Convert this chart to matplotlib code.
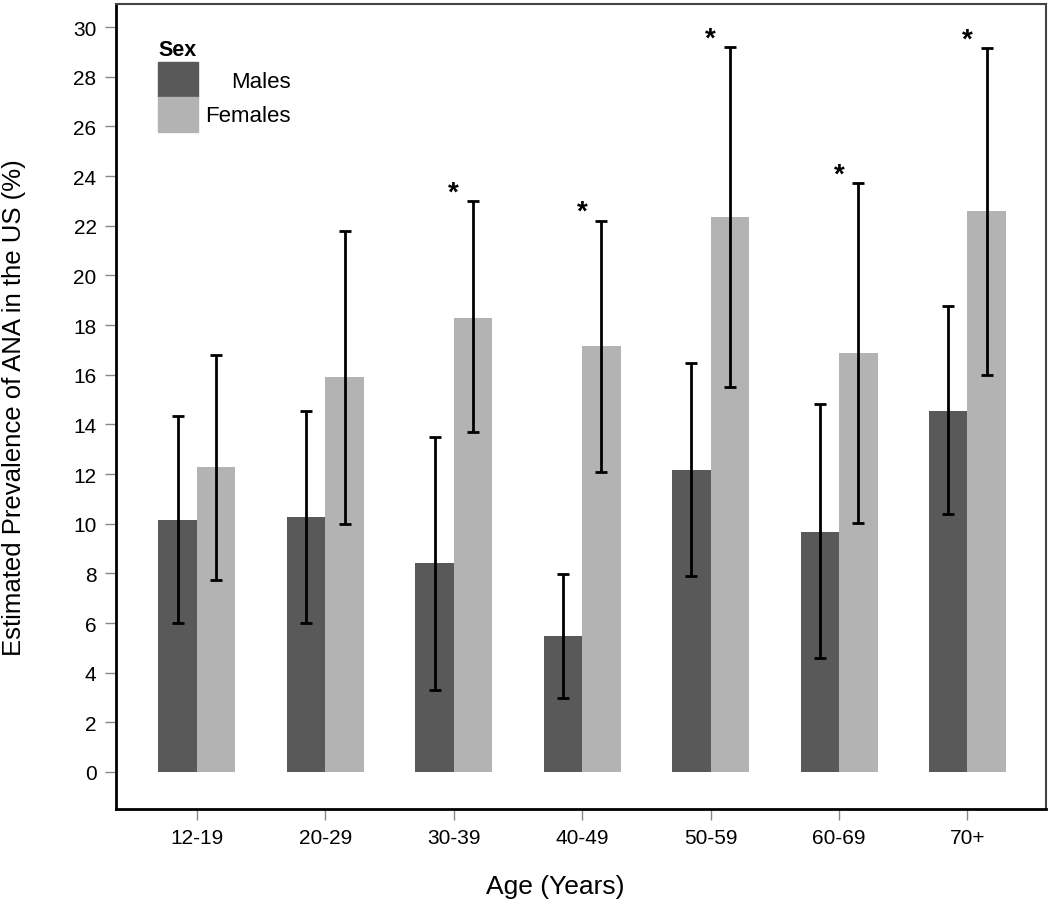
import numpy as np
import matplotlib
matplotlib.use("Agg")
import matplotlib.pyplot as plt
from matplotlib.patches import Rectangle

plt.rcParams['font.family'] = ['Liberation Sans', 'DejaVu Sans']

# data
ages = ['12-19', '20-29', '30-39', '40-49', '50-59', '60-69', '70+']
males = [10.15, 10.27, 8.4, 5.48, 12.16, 9.67, 14.55]
males_lo = [6.0, 6.0, 3.3, 2.98, 7.9, 4.6, 10.4]
males_hi = [14.35, 14.55, 13.5, 7.97, 16.47, 14.8, 18.77]
females = [12.28, 15.9, 18.3, 17.15, 22.35, 16.87, 22.6]
females_lo = [7.73, 10.0, 13.7, 12.08, 15.5, 10.03, 16.0]
females_hi = [16.8, 21.8, 23.0, 22.2, 29.2, 23.7, 29.15]
significant = [False, False, True, True, True, True, True]

dark = '#595959'
light = '#b3b3b3'

fig = plt.figure(figsize=(10.5, 9.03), dpi=100)
ax = fig.add_axes([0.1105, 0.103, 0.8855, 0.8915])

x = np.arange(len(ages))
w = 0.3
m = np.array(males)
f = np.array(females)

ax.bar(x - w / 2, m, w, color=dark, zorder=2)
ax.bar(x + w / 2, f, w, color=light, zorder=2)

# error bars (asymmetric CIs)
ax.errorbar(x - w / 2, m, yerr=[m - np.array(males_lo), np.array(males_hi) - m],
            fmt='none', ecolor='black', elinewidth=2, capsize=4, capthick=2, zorder=3)
ax.errorbar(x + w / 2, f, yerr=[f - np.array(females_lo), np.array(females_hi) - f],
            fmt='none', ecolor='black', elinewidth=2, capsize=4, capthick=2, zorder=3)

# significance stars
for i, sig in enumerate(significant):
    if sig:
        ax.text(x[i], females_hi[i] + 0.35, '*', ha='center', va='center',
                fontsize=20, fontweight='bold')

ax.set_xlim(-0.63, 6.61)
ax.set_ylim(-1.49, 30.93)
ax.set_xticks(x)
ax.set_xticklabels(ages)
ax.set_yticks(np.arange(0, 31, 2))
ax.tick_params(axis='both', labelsize=15, length=8, width=1, color='#888888', pad=6)

ax.set_ylabel('Estimated Prevalence of ANA in the US (%)', fontsize=18.5)
ax.set_xlabel('Age (Years)', fontsize=19)
ax.yaxis.set_label_coords(-0.11, 0.5)
ax.xaxis.set_label_coords(0.472, -0.0957)
ax.xaxis.label.set_va('center')
ax.yaxis.label.set_va('center')

for side in ['left', 'bottom']:
    ax.spines[side].set_linewidth(2)
    ax.spines[side].set_color('black')
for side in ['top', 'right']:
    ax.spines[side].set_linewidth(1.5)
    ax.spines[side].set_color('#444444')

# legend drawn by hand (title above, labels right aligned)
ax.text(0.0452, 0.944, 'Sex', transform=ax.transAxes, fontsize=15.5,
        fontweight='bold', ha='left', va='center')
ax.add_patch(Rectangle((0.0452, 0.885), 0.043, 0.043, transform=ax.transAxes,
                       color=dark, clip_on=False))
ax.add_patch(Rectangle((0.0452, 0.841), 0.043, 0.044, transform=ax.transAxes,
                       color=light, clip_on=False))
ax.text(0.188, 0.904, 'Males', transform=ax.transAxes, fontsize=16,
        ha='right', va='center')
ax.text(0.188, 0.862, 'Females', transform=ax.transAxes, fontsize=16,
        ha='right', va='center')

fig.savefig('out.png', dpi=100)
